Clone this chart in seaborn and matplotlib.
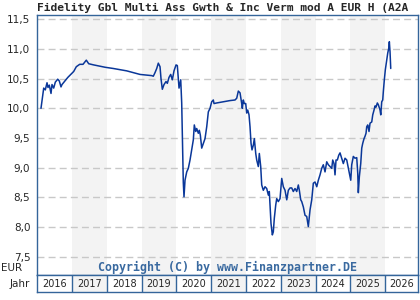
import numpy as np
import pandas as pd
import seaborn as sns
import matplotlib.pyplot as plt

# fund price (EUR); time as decimal year
t_year = [
    2016.109, 2016.158, 2016.187, 2016.233, 2016.282, 2016.310, 2016.348, 2016.397,
    2016.425, 2016.474, 2016.520, 2016.589, 2016.635, 2016.684, 2016.713, 2016.880,
    2017.049, 2017.124, 2017.221, 2017.316, 2017.411, 2017.480, 2017.624, 2017.957,
    2018.187, 2018.572, 2018.954, 2019.290, 2019.336, 2019.385, 2019.434, 2019.480,
    2019.529, 2019.557, 2019.595, 2019.644, 2019.701, 2019.739, 2019.787, 2019.836,
    2019.882, 2019.931, 2019.989, 2020.026, 2020.075, 2020.124, 2020.152, 2020.181,
    2020.198, 2020.218, 2020.247, 2020.296, 2020.342, 2020.391, 2020.440, 2020.486,
    2020.514, 2020.555, 2020.583, 2020.629, 2020.658, 2020.687, 2020.727, 2020.773,
    2020.822, 2020.871, 2020.917, 2020.966, 2021.014, 2021.060, 2021.080, 2021.158,
    2021.348, 2021.540, 2021.684, 2021.733, 2021.779, 2021.828, 2021.876, 2021.894,
    2021.922, 2021.951, 2021.991, 2022.020, 2022.049, 2022.086, 2022.115, 2022.144,
    2022.172, 2022.210, 2022.239, 2022.279, 2022.307, 2022.353, 2022.382, 2022.422,
    2022.451, 2022.497, 2022.546, 2022.595, 2022.641, 2022.669, 2022.690, 2022.718,
    2022.756, 2022.784, 2022.813, 2022.853, 2022.882, 2022.928, 2022.977, 2023.026,
    2023.072, 2023.121, 2023.170, 2023.216, 2023.264, 2023.313, 2023.359, 2023.408,
    2023.457, 2023.503, 2023.532, 2023.572, 2023.601, 2023.647, 2023.695, 2023.744,
    2023.790, 2023.839, 2023.888, 2023.934, 2023.983, 2024.032, 2024.078, 2024.126,
    2024.175, 2024.221, 2024.270, 2024.319, 2024.365, 2024.414, 2024.463, 2024.491,
    2024.529, 2024.557, 2024.586, 2024.624, 2024.664, 2024.701, 2024.750, 2024.796,
    2024.845, 2024.894, 2024.940, 2024.968, 2025.009, 2025.037, 2025.083, 2025.132,
    2025.181, 2025.210, 2025.227, 2025.256, 2025.296, 2025.325, 2025.353, 2025.391,
    2025.420, 2025.448, 2025.468, 2025.497, 2025.534, 2025.563, 2025.612, 2025.641,
    2025.678, 2025.707, 2025.736, 2025.773, 2025.802, 2025.851, 2025.871, 2025.899,
    2025.928, 2025.945, 2025.974, 2026.003, 2026.043, 2026.072, 2026.101, 2026.118,
    2026.138, 2026.158,
]
price = [
    10.00, 10.22, 10.34, 10.31, 10.43, 10.35, 10.39, 10.25,
    10.40, 10.34, 10.44, 10.49, 10.46, 10.36, 10.40, 10.52,
    10.62, 10.70, 10.74, 10.74, 10.81, 10.75, 10.73, 10.69,
    10.67, 10.63, 10.57, 10.55, 10.54, 10.60, 10.67, 10.76,
    10.70, 10.50, 10.32, 10.40, 10.45, 10.42, 10.52, 10.57,
    10.48, 10.63, 10.73, 10.72, 10.34, 10.48, 10.09, 9.19,
    8.75, 8.51, 8.79, 8.93, 8.99, 9.13, 9.30, 9.47,
    9.72, 9.61, 9.66, 9.58, 9.63, 9.55, 9.33, 9.41,
    9.49, 9.69, 9.94, 10.00, 10.11, 10.14, 10.08, 10.09,
    10.11, 10.13, 10.14, 10.17, 10.29, 10.26, 10.08, 10.00,
    10.14, 10.08, 10.08, 9.92, 9.97, 9.89, 9.69, 9.41,
    9.30, 9.38, 9.49, 9.24, 9.13, 9.02, 9.24, 9.02,
    8.71, 8.62, 8.68, 8.65, 8.54, 8.60, 8.37, 8.06,
    7.87, 7.92, 8.15, 8.37, 8.48, 8.43, 8.48, 8.82,
    8.68, 8.62, 8.46, 8.62, 8.66, 8.66, 8.60, 8.65,
    8.60, 8.71, 8.62, 8.46, 8.43, 8.34, 8.20, 8.18,
    8.01, 8.29, 8.46, 8.74, 8.76, 8.68, 8.79, 8.88,
    8.99, 9.05, 8.93, 9.10, 9.05, 9.02, 8.99, 9.13,
    9.07, 8.88, 9.13, 9.13, 9.21, 9.25, 9.16, 9.07,
    9.16, 9.13, 8.99, 8.91, 8.79, 9.05, 9.19, 9.16,
    9.17, 8.91, 8.58, 8.85, 9.07, 9.33, 9.41, 9.49,
    9.53, 9.58, 9.69, 9.72, 9.61, 9.75, 9.77, 9.89,
    9.97, 10.04, 10.02, 10.09, 10.06, 9.97, 9.89, 10.11,
    10.14, 10.28, 10.48, 10.65, 10.81, 10.93, 11.01, 11.12,
    10.95, 10.67,
]
years = [2016, 2017, 2018, 2019, 2020, 2021, 2022, 2023, 2024, 2025, 2026]
y_ticks = [7.5, 8.0, 8.5, 9.0, 9.5, 10.0, 10.5, 11.0, 11.5]

title = 'Fidelity Gbl Multi Ass Gwth & Inc Verm mod A EUR H (A2A'
copyright_txt = 'Copyright (C) by www.Finanzpartner.DE'

df = pd.DataFrame({'t': t_year, 'price': price})

sns.set_style('white')
plt.rcParams['font.family'] = ['DejaVu Sans']

frame_col = '#34659a'
band_col = '#f3f3f3'
x_min, x_max = 2016, 2026.95

W, H = 420, 300
fig = plt.figure(figsize=(4.2, 3.0), dpi=100)
ax = fig.add_axes([37.2 / W, 1 - 275.3 / H, (418.3 - 37.2) / W, (275.3 - 15) / H])

# shaded every other year
for yr in years[1::2]:
    ax.axvspan(yr, yr + 1, color=band_col, lw=0, zorder=0)

sns.lineplot(data=df, x='t', y='price', ax=ax, color='#0a3799', lw=1.1, zorder=3)

ax.set_xlim(x_min, x_max)
ax.set_ylim(7.19, 11.57)
ax.set_yticks(y_ticks)
ax.set_yticklabels([f'{v:.1f}'.replace('.', ',') for v in y_ticks])
ax.set_xticks([])
ax.set_xlabel('')
ax.set_ylabel('')
ax.tick_params(axis='y', length=0, pad=5, labelsize=7.5)
ax.grid(axis='y', color='#c8c8c8', ls=(0, (5, 3)), lw=1)
for s in ax.spines.values():
    s.set_color(frame_col)
    s.set_linewidth(1)

ax.text(0.5, 0.03, copyright_txt, transform=ax.transAxes, ha='center', va='center',
        family='DejaVu Sans Mono', weight='bold', size=8.4, color='#3a6aa0', zorder=4)

# year strip under the chart
ax_yr = fig.add_axes([37.2 / W, 1 - 292 / H, (418.3 - 37.2) / W, 16.7 / H])
ax_yr.set_xlim(x_min, x_max)
ax_yr.set_ylim(0, 1)
for yr in years[1::2]:
    ax_yr.axvspan(yr, yr + 1, color=band_col, lw=0, zorder=0)
for yr in years[1:]:
    ax_yr.axvline(yr, color=frame_col, lw=1)
for yr in years:
    ax_yr.text((yr + min(yr + 1, x_max)) / 2, 0.5, str(yr), ha='center', va='center', size=7)
ax_yr.set_xticks([])
ax_yr.set_yticks([])
for s in ax_yr.spines.values():
    s.set_color(frame_col)
    s.set_linewidth(1)

fig.text(30 / W, 1 - 284 / H, 'Jahr', ha='right', va='center', size=7.5)
fig.text(1 / W, 1 - 268 / H, 'EUR', ha='left', va='center', size=7.5)
fig.text(37 / W, 1 - 8 / H, title, ha='left', va='center',
         family='DejaVu Sans Mono', weight='bold', size=8.1)

fig.savefig('out.png', dpi=100)
